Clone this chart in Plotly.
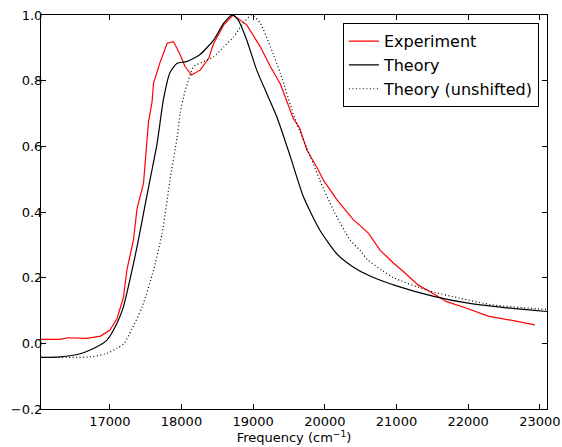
import plotly.graph_objects as go

# Experiment (red)
exp_x = [16040, 16300, 16420, 16680, 16870, 17000, 17100, 17190, 17240, 17330, 17380, 17470,
         17500, 17540, 17590, 17610, 17700, 17800, 17890, 17980, 18050, 18140, 18260, 18380,
         18450, 18590, 18720, 18910, 19100, 19240, 19380, 19560, 19650, 19750, 19910, 19980,
         20170, 20400, 20500, 20610, 20770, 20960, 21100, 21300, 21470, 21700, 21980, 22280,
         22630, 22930]
exp_y = [0.012, 0.012, 0.017, 0.015, 0.022, 0.040, 0.075, 0.140, 0.225, 0.315, 0.410, 0.487,
         0.568, 0.675, 0.736, 0.792, 0.855, 0.914, 0.919, 0.880, 0.843, 0.817, 0.832, 0.868,
         0.914, 0.970, 1.000, 0.970, 0.903, 0.843, 0.790, 0.685, 0.655, 0.589, 0.528, 0.497,
         0.437, 0.376, 0.357, 0.335, 0.284, 0.244, 0.218, 0.178, 0.157, 0.127, 0.107, 0.083,
         0.069, 0.056]

# Theory (shifted, black solid)
th_x = [16040, 16300, 16550, 16750, 16960, 17100, 17190, 17280, 17380, 17470, 17560, 17660,
        17750, 17840, 17940, 18070, 18260, 18450, 18590, 18710, 18790, 18910, 19050, 19190,
        19330, 19520, 19700, 19930, 20170, 20400, 20630, 21000, 21520, 21980, 22450, 23100]
th_y = [-0.043, -0.041, -0.034, -0.018, 0.010, 0.061, 0.111, 0.193, 0.294, 0.396, 0.497, 0.609,
        0.745, 0.825, 0.853, 0.858, 0.880, 0.924, 0.975, 1.000, 0.985, 0.924, 0.832, 0.761,
        0.690, 0.568, 0.447, 0.345, 0.272, 0.232, 0.205, 0.175, 0.143, 0.123, 0.110, 0.097]

# Theory (unshifted, dotted)
un_x = [16040, 16740, 16970, 17100, 17200, 17300, 17450, 17610, 17730, 17840, 17940, 17980,
        18030, 18070, 18170, 18310, 18450, 18590, 18730, 18860, 18980, 19100, 19240, 19380,
        19590, 19800, 19930, 20120, 20350, 20490, 20600, 20800, 20960, 21420, 21890, 22350, 23100]
un_y = [-0.043, -0.041, -0.030, -0.015, 0.000, 0.040, 0.110, 0.223, 0.335, 0.497, 0.629, 0.700,
        0.751, 0.782, 0.843, 0.858, 0.873, 0.903, 0.934, 0.975, 1.000, 0.975, 0.903, 0.822,
        0.680, 0.568, 0.497, 0.406, 0.315, 0.284, 0.254, 0.222, 0.200, 0.162, 0.137, 0.117, 0.103]

x_ticks = [17000, 18000, 19000, 20000, 21000, 22000, 23000]
y_ticks = [-0.2, 0.0, 0.2, 0.4, 0.6, 0.8, 1.0]

fig = go.Figure()
fig.add_trace(go.Scatter(x=exp_x, y=exp_y, mode="lines", name="Experiment",
                         line=dict(color="#ff0000", width=1.2)))
fig.add_trace(go.Scatter(x=th_x, y=th_y, mode="lines", name="Theory",
                         line=dict(color="#000000", width=1.2, shape="spline", smoothing=0.6)))
fig.add_trace(go.Scatter(x=un_x, y=un_y, mode="lines", name="Theory (unshifted)",
                         line=dict(color="#000000", width=1.2, dash="1px,2.5px",
                                   shape="spline", smoothing=0.6)))

axis_common = dict(showline=True, mirror="allticks", linecolor="black", linewidth=1,
                   ticks="inside", ticklen=5, tickcolor="black", showgrid=False,
                   zeroline=False, automargin=False,
                   tickfont=dict(size=13, color="black"))

fig.update_layout(
    width=562, height=447,
    margin=dict(l=41, r=15, t=15, b=38),
    paper_bgcolor="white", plot_bgcolor="white",
    font=dict(family="DejaVu Sans", color="black"),
    showlegend=True,
    legend=dict(x=0.984, y=0.979, xanchor="right", yanchor="top",
                bgcolor="white", bordercolor="black", borderwidth=1,
                font=dict(size=16, color="black"), tracegroupgap=0),
    xaxis=dict(range=[16040, 23100], tickvals=x_ticks, tickformat="d",
               title=dict(text="Frequency (cm<sup>\u22121</sup>)", font=dict(size=13), standoff=2),
               **axis_common),
    yaxis=dict(range=[-0.2, 1.0], tickvals=y_ticks, tickformat=".1f",
               ticklabelstandoff=-5, **axis_common),
)

fig.write_html("out.html")
